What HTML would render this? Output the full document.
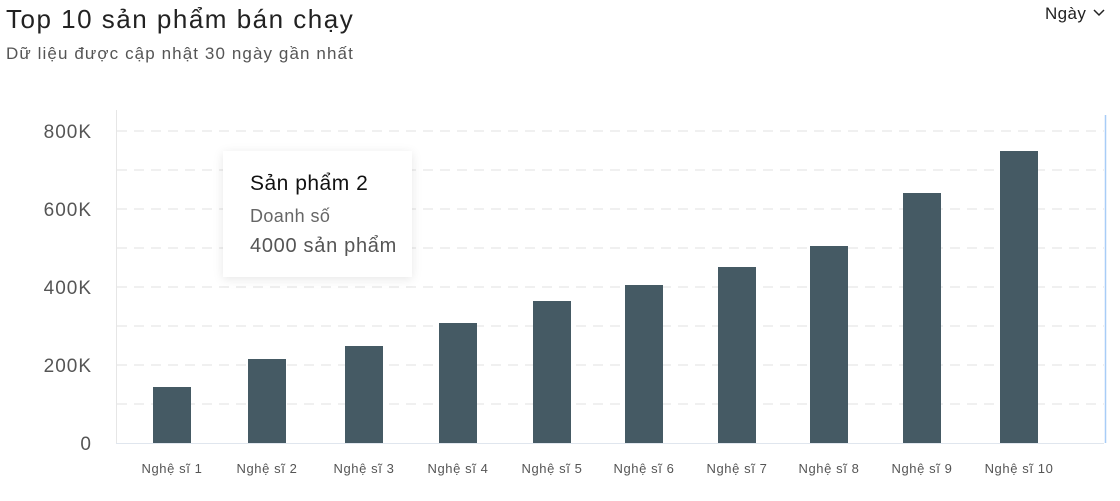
<!DOCTYPE html>
<html><head><meta charset="utf-8"><style>
body{margin:0;width:1120px;height:501px;background:#fff;font-family:"Liberation Sans",sans-serif;position:relative;overflow:hidden}
.t{position:absolute;white-space:nowrap}
</style></head><body>
<div class="t" style="left:6px;top:4px;font-size:26px;color:#222;letter-spacing:1.5px">Top 10 sản phẩm bán chạy</div>
<div class="t" style="left:6px;top:44px;font-size:17px;color:#555;letter-spacing:1.1px">Dữ liệu được cập nhật 30 ngày gần nhất</div>
<div class="t" style="left:1045px;top:4px;font-size:17px;color:#222;letter-spacing:0.4px">Ngày</div>
<svg style="position:absolute;left:0;top:0" width="1120" height="501">
<path d="M1094 10 l5 5 l5 -5" fill="none" stroke="#222" stroke-width="1.5"/>
<g stroke="#e6e6e6" stroke-dasharray="10 7" stroke-width="1.2">
<line x1="117" x2="1104" y1="131" y2="131"/><line x1="117" x2="1104" y1="170" y2="170"/>
<line x1="117" x2="1104" y1="209" y2="209"/><line x1="117" x2="1104" y1="248" y2="248"/>
<line x1="117" x2="1104" y1="287" y2="287"/><line x1="117" x2="1104" y1="326" y2="326"/>
<line x1="117" x2="1104" y1="365" y2="365"/><line x1="117" x2="1104" y1="404" y2="404"/>
</g>
<line x1="116.5" x2="116.5" y1="110" y2="443" stroke="#e6e6e6"/>
<line x1="116" x2="1104" y1="443.5" y2="443.5" stroke="#e0e6ee"/>
<line x1="1105.5" x2="1105.5" y1="115" y2="443" stroke="#a8cdf7" stroke-width="1.5"/>
<g font-size="19" fill="#555" text-anchor="end" letter-spacing="1">
<text x="92" y="138">800K</text><text x="92" y="216">600K</text><text x="92" y="294">400K</text><text x="92" y="372">200K</text><text x="92" y="450">0</text>
</g>
<g fill="#455a64">
<rect x="153" y="387" width="38" height="56"/><rect x="248" y="359" width="38" height="84"/>
<rect x="345" y="346" width="38" height="97"/><rect x="439" y="323" width="38" height="120"/>
<rect x="533" y="301" width="38" height="142"/><rect x="625" y="285" width="38" height="158"/>
<rect x="718" y="267" width="38" height="176"/><rect x="810" y="246" width="38" height="197"/>
<rect x="903" y="193" width="38" height="250"/><rect x="1000" y="151" width="38" height="292"/>
</g>
<g font-size="13" fill="#555" text-anchor="middle" letter-spacing="0.6">
<text x="172" y="473">Nghệ sĩ 1</text><text x="267" y="473">Nghệ sĩ 2</text><text x="364" y="473">Nghệ sĩ 3</text>
<text x="458" y="473">Nghệ sĩ 4</text><text x="552" y="473">Nghệ sĩ 5</text><text x="644" y="473">Nghệ sĩ 6</text>
<text x="737" y="473">Nghệ sĩ 7</text><text x="829" y="473">Nghệ sĩ 8</text><text x="922" y="473">Nghệ sĩ 9</text>
<text x="1019" y="473">Nghệ sĩ 10</text>
</g>
</svg>
<div style="position:absolute;left:223px;top:151px;width:189px;height:126px;background:#fff;box-shadow:0 2px 10px rgba(0,0,0,0.10)">
<div class="t" style="left:27px;top:21px;font-size:21px;color:#111;letter-spacing:0.5px">Sản phẩm 2</div>
<div class="t" style="left:27px;top:55px;font-size:18px;color:#666;letter-spacing:0.4px">Doanh số</div>
<div class="t" style="left:27px;top:84px;font-size:20px;color:#555;letter-spacing:0.7px">4000 sản phẩm</div>
</div>
</body></html>
